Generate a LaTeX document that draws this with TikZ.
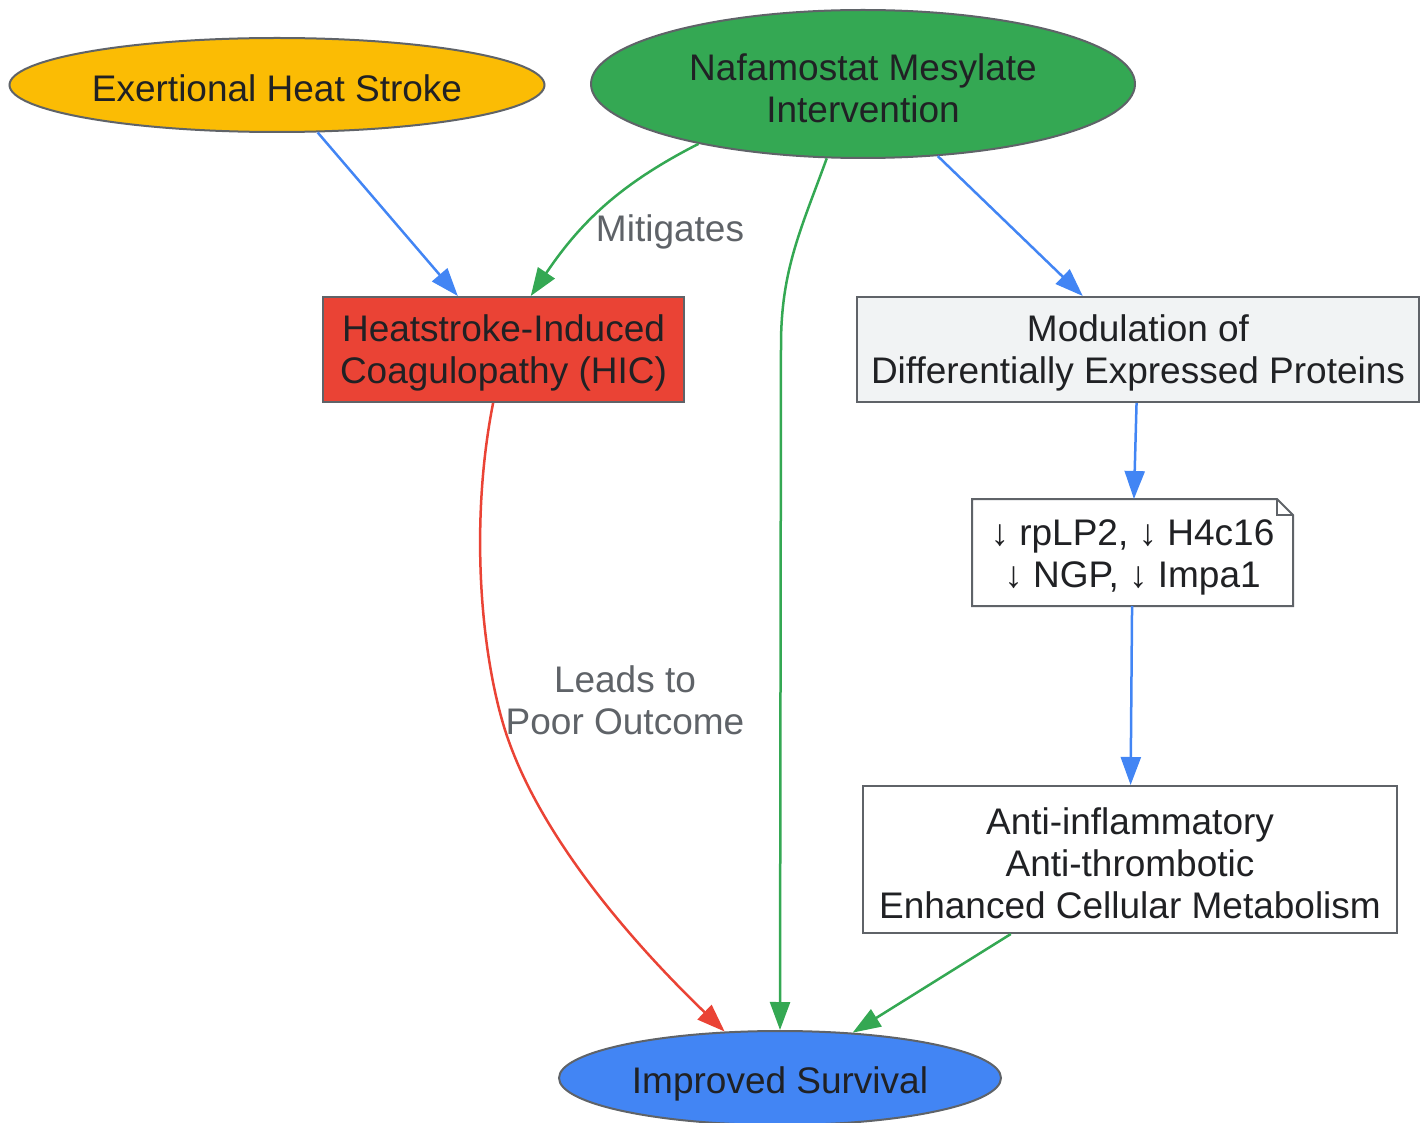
\documentclass[tikz,border=0pt]{standalone}
\usepackage{fontspec}
\setmainfont{Liberation Sans}
\usetikzlibrary{shapes.geometric,arrows.meta,calc}
\definecolor{cyellow}{HTML}{FBBC04}
\definecolor{cgreen}{HTML}{34A853}
\definecolor{cred}{HTML}{EA4335}
\definecolor{cblue}{HTML}{4285F4}
\definecolor{clight}{HTML}{F1F3F4}
\definecolor{cstroke}{HTML}{5F6368}
\definecolor{ctext}{HTML}{202124}
\definecolor{clabel}{HTML}{5F6368}
\tikzset{
  base/.style={draw=cstroke, line width=2pt, inner sep=0pt, align=center, text=ctext,
    font=\fontsize{37}{42}\selectfont},
  oval/.style={base, ellipse},
  boxnode/.style={base, rectangle},
  edge/.style={line width=2.5pt, -{Triangle[length=28pt,width=20pt]}},
  elabel/.style={text=clabel, align=center, font=\fontsize{37}{42}\selectfont},
  txt/.style={align=center, text=ctext, inner sep=0pt, font=\fontsize{37}{42}\selectfont},
}
\begin{document}
\begin{tikzpicture}[x=1pt,y=-1pt]
\useasboundingbox (0,0) rectangle (1428,1123);
\node[oval, fill=cyellow, minimum width=535, minimum height=94] (ehs) at (277,85) {};
\node[txt] (tehs) at (277,88) {Exertional Heat Stroke};
\node[oval, fill=cgreen, minimum width=544, minimum height=148] (naf) at (863,84) {};
\node[txt] (tnaf) at (863,88) {Nafamostat Mesylate\\Intervention};
\node[boxnode, fill=cred, minimum width=361, minimum height=105] (hic) at (503.5,349.5) {};
\node[txt] (thic) at (503.5,353) {Heatstroke-Induced\\Coagulopathy (HIC)};
\node[boxnode, fill=clight, minimum width=562, minimum height=105] (mod) at (1138,349.5) {};
\node[txt] (tmod) at (1138,353) {Modulation of\\Differentially Expressed Proteins};
\node[base, draw=none, minimum width=319, minimum height=105] (note) at (1132.5,552.5) {};
\draw[draw=cstroke, line width=2pt, fill=white]
  (note.north west) -- ($(note.north east)+(-16,0)$) -- ($(note.north east)+(0,16)$)
  -- (note.south east) -- (note.south west) -- cycle;
\draw[draw=cstroke, line width=1.5pt]
  ($(note.north east)+(-16,0)$) -- ($(note.north east)+(-16,16)$) -- ($(note.north east)+(0,16)$);
\node[txt] (tnote) at (1132.5,557) {↓ rpLP2, ↓ H4c16\\↓ NGP, ↓ Impa1};
\node[boxnode, fill=white, minimum width=534, minimum height=147] (anti) at (1130,859.5) {};
\node[txt] (tanti) at (1130,863) {Anti-inflammatory\\Anti-thrombotic\\Enhanced Cellular Metabolism};
\node[oval, fill=cblue, minimum width=442, minimum height=94] (surv) at (780,1078) {};
\node[txt] (tsurv) at (780,1084) {Improved Survival};
\coordinate (bend) at (781,345);

\draw[edge, cblue] (ehs) -- (hic);
\draw[edge, cblue] (naf) -- (mod);
\draw[edge, cblue] (mod) -- (note);
\draw[edge, cblue] (note) -- (anti);
\draw[edge, cgreen] (anti) -- (surv);
\draw[edge, cgreen] (naf.200) to[out=207,in=56] (hic.63);
\draw[edge, cgreen] (naf.244) to[out=250,in=90] (bend) -- (surv.north);
\draw[edge, cred] (hic.259) .. controls (470,520) and (480,650) .. (505,730)
  .. controls (540,840) and (640,950) .. (surv.140);
\node[elabel] (lmit) at (670,232) {Mitigates};
\node[elabel] (llead) at (625,700) {Leads to\\Poor Outcome};
\end{tikzpicture}
\end{document}
